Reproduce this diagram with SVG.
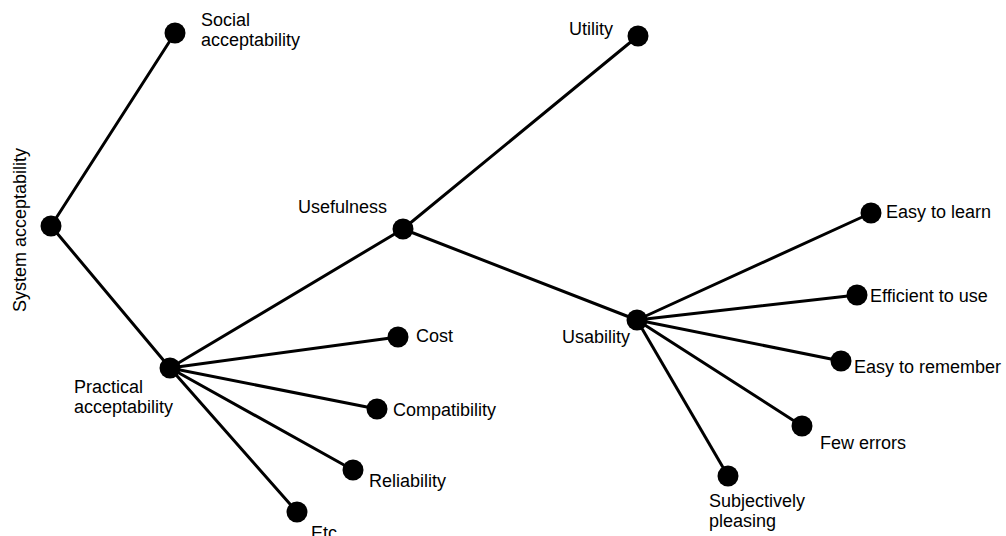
<svg xmlns="http://www.w3.org/2000/svg" width="1006" height="536" viewBox="0 0 1006 536">
  <style>
    .edge { stroke: #000; stroke-width: 3; fill: none; stroke-linecap: round; }
    .dot { fill: #000; }
    .lbl { font-family: "Liberation Sans", Arial, sans-serif; font-size: 18px; fill: #000; }
  </style>
  <rect width="1006" height="536" fill="#fff"/>

  <!-- connectors -->
  <g id="connectors">
    <line class="edge" x1="51" y1="226" x2="175" y2="33"/>
    <line class="edge" x1="51" y1="226" x2="170" y2="368"/>
    <line class="edge" x1="170" y1="368" x2="403" y2="229"/>
    <line class="edge" x1="170" y1="368" x2="398" y2="337"/>
    <line class="edge" x1="170" y1="368" x2="377" y2="409"/>
    <line class="edge" x1="170" y1="368" x2="353" y2="470"/>
    <line class="edge" x1="170" y1="368" x2="297" y2="512"/>
    <line class="edge" x1="403" y1="229" x2="638" y2="36"/>
    <line class="edge" x1="403" y1="229" x2="637" y2="320"/>
    <line class="edge" x1="637" y1="320" x2="871" y2="213"/>
    <line class="edge" x1="637" y1="320" x2="857" y2="295"/>
    <line class="edge" x1="637" y1="320" x2="841" y2="361"/>
    <line class="edge" x1="637" y1="320" x2="802" y2="426"/>
    <line class="edge" x1="637" y1="320" x2="728" y2="476"/>
  </g>

  <g id="system-acceptability">
    <circle class="dot" cx="51" cy="226" r="10.5"/>
    <text class="lbl" transform="translate(26,230) rotate(-90)" text-anchor="middle">System acceptability</text>
  </g>
  <g id="social-acceptability">
    <circle class="dot" cx="175" cy="33" r="10.5"/>
    <text class="lbl" x="201" y="26">Social</text>
    <text class="lbl" x="201" y="46">acceptability</text>
  </g>
  <g id="practical-acceptability">
    <circle class="dot" cx="170" cy="368" r="10.5"/>
    <text class="lbl" x="74" y="393">Practical</text>
    <text class="lbl" x="74" y="413">acceptability</text>
  </g>
  <g id="usefulness">
    <circle class="dot" cx="403" cy="229" r="10.5"/>
    <text class="lbl" x="298" y="213">Usefulness</text>
  </g>
  <g id="utility">
    <circle class="dot" cx="638" cy="36" r="10.5"/>
    <text class="lbl" x="569" y="35">Utility</text>
  </g>
  <g id="cost">
    <circle class="dot" cx="398" cy="337" r="10.5"/>
    <text class="lbl" x="416" y="342">Cost</text>
  </g>
  <g id="compatibility">
    <circle class="dot" cx="377" cy="409" r="10.5"/>
    <text class="lbl" x="393" y="416">Compatibility</text>
  </g>
  <g id="reliability">
    <circle class="dot" cx="353" cy="470" r="10.5"/>
    <text class="lbl" x="369" y="487">Reliability</text>
  </g>
  <g id="etc">
    <circle class="dot" cx="297" cy="512" r="10.5"/>
    <text class="lbl" x="311" y="539">Etc</text>
  </g>
  <g id="usability">
    <circle class="dot" cx="637" cy="320" r="10.5"/>
    <text class="lbl" x="562" y="343">Usability</text>
  </g>
  <g id="easy-to-learn">
    <circle class="dot" cx="871" cy="213" r="10.5"/>
    <text class="lbl" x="886" y="218">Easy to learn</text>
  </g>
  <g id="efficient-to-use">
    <circle class="dot" cx="857" cy="295" r="10.5"/>
    <text class="lbl" x="870" y="302">Efficient to use</text>
  </g>
  <g id="easy-to-remember">
    <circle class="dot" cx="841" cy="361" r="10.5"/>
    <text class="lbl" x="854" y="373">Easy to remember</text>
  </g>
  <g id="few-errors">
    <circle class="dot" cx="802" cy="426" r="10.5"/>
    <text class="lbl" x="820" y="449">Few errors</text>
  </g>
  <g id="subjectively-pleasing">
    <circle class="dot" cx="728" cy="476" r="10.5"/>
    <text class="lbl" x="709" y="507">Subjectively</text>
    <text class="lbl" x="709" y="527">pleasing</text>
  </g>
</svg>
